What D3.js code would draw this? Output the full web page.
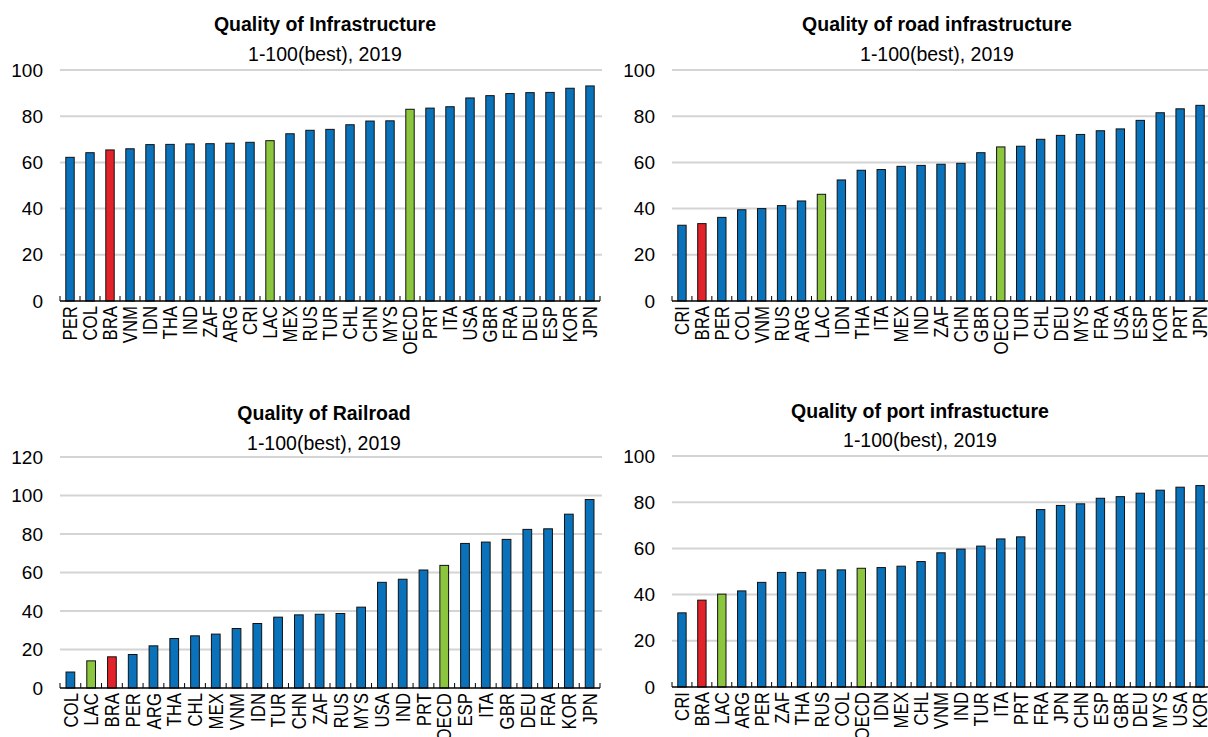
<!DOCTYPE html>
<html>
<head>
<meta charset="utf-8">
<script src="https://cdn.jsdelivr.net/npm/d3@7"></script>
<style>
  body { margin: 0; background: #fff; }
  svg { display: block; font-family: "Liberation Sans", Arial, sans-serif; }
</style>
</head>
<body>
<svg id="chart" width="1208" height="737"></svg>
<script>
// Quality of Infrastructure
const infraCats = ["PER","COL","BRA","VNM","IDN","THA","IND","ZAF","ARG","CRI","LAC","MEX","RUS","TUR","CHL","CHN","MYS","OECD","PRT","ITA","USA","GBR","FRA","DEU","ESP","KOR","JPN"];
const infraVals = [62.2,64.2,65.4,65.9,67.7,67.8,68.0,68.1,68.3,68.7,69.4,72.4,73.9,74.3,76.3,77.9,78.0,83.0,83.5,84.1,87.9,88.9,89.8,90.2,90.3,92.1,93.1];

// Quality of road infrastructure
const roadCats = ["CRI","BRA","PER","COL","VNM","RUS","ARG","LAC","IDN","THA","ITA","MEX","IND","ZAF","CHN","GBR","OECD","TUR","CHL","DEU","MYS","FRA","USA","ESP","KOR","PRT","JPN"];
const roadVals = [32.8,33.5,36.2,39.5,40.0,41.3,43.3,46.2,52.4,56.6,56.9,58.3,58.7,59.2,59.6,64.2,66.7,67.0,70.0,71.7,72.1,73.7,74.5,78.2,81.5,83.2,84.7];

// Quality of Railroad
const railCats = ["COL","LAC","BRA","PER","ARG","THA","CHL","MEX","VNM","IDN","TUR","CHN","ZAF","RUS","MYS","USA","IND","PRT","OECD","ESP","ITA","GBR","DEU","FRA","KOR","JPN"];
const railVals = [8.3,14.1,16.2,17.4,21.9,25.7,27.1,28.0,30.9,33.5,36.8,38.0,38.3,38.7,42.0,54.9,56.5,61.3,63.7,75.1,75.8,77.2,82.4,82.7,90.3,97.9];

// Quality of port infrastucture
const portCats = ["CRI","BRA","LAC","ARG","PER","ZAF","THA","RUS","COL","OECD","IDN","MEX","CHL","VNM","IND","TUR","ITA","PRT","FRA","JPN","CHN","ESP","GBR","DEU","MYS","USA","KOR"];
const portVals = [32.1,37.6,40.2,41.6,45.3,49.6,49.6,50.7,50.7,51.4,51.7,52.3,54.3,58.1,59.7,61.0,64.1,65.0,76.8,78.6,79.3,81.7,82.4,83.9,85.2,86.5,87.2];

const subtitle = "1-100(best), 2019";
const yTicks100 = [0,20,40,60,80,100];
const yTicks120 = [0,20,40,60,80,100,120];

const BLUE = "#0a72ba", RED = "#e2232a", GREEN = "#8cc63e";
function barColor(c) {
  if (c === "BRA") return RED;
  if (c === "LAC" || c === "OECD") return GREEN;
  return BLUE;
}

const svg = d3.select("#chart");

function panel(opt) {
  const g = svg.append("g");
  const x = d3.scaleBand().domain(opt.cats).range([opt.x0, opt.x1]);
  const y = d3.scaleLinear().domain([0, opt.max]).range([opt.y0, opt.y1]);

  // titles
  g.append("text").attr("x", opt.tx).attr("y", opt.ty)
    .attr("text-anchor", "middle").attr("font-weight", "bold")
    .attr("font-size", 19.5).attr("fill", "#000").text(opt.title);
  g.append("text").attr("x", opt.tx).attr("y", opt.ty + opt.sub)
    .attr("text-anchor", "middle").attr("font-size", 19.5)
    .attr("fill", "#000").text(subtitle);

  // gridlines
  g.append("g").selectAll("line")
    .data(opt.ticks.filter(d => d > 0))
    .join("line")
    .attr("x1", opt.x0).attr("x2", opt.x1 + 2)
    .attr("y1", d => y(d)).attr("y2", d => y(d))
    .attr("stroke", "#d4d4d4").attr("stroke-width", 2);

  // y labels
  g.append("g").selectAll("text")
    .data(opt.ticks)
    .join("text")
    .attr("x", opt.x0 - 17).attr("y", d => y(d))
    .attr("dy", "0.35em").attr("text-anchor", "end")
    .attr("font-size", 19).attr("fill", "#000")
    .text(d => d);

  // bars
  const bw = x.bandwidth() * 0.42;
  g.append("g").selectAll("rect")
    .data(opt.cats.map((c, i) => ({ c, v: opt.vals[i] })))
    .join("rect")
    .attr("x", d => x(d.c) + (x.bandwidth() - bw) / 2)
    .attr("y", d => y(d.v))
    .attr("width", bw)
    .attr("height", d => y(0) - y(d.v))
    .attr("fill", d => barColor(d.c))
    .attr("stroke", "#111").attr("stroke-width", 1);

  // x axis line + inside ticks at band edges
  g.append("line")
    .attr("x1", opt.x0).attr("x2", opt.x1)
    .attr("y1", y(0)).attr("y2", y(0))
    .attr("stroke", "#000").attr("stroke-width", 1.5);
  const edges = opt.cats.map(c => x(c)).concat([opt.x1]);
  g.append("g").selectAll("line")
    .data(edges)
    .join("line")
    .attr("x1", d => d).attr("x2", d => d)
    .attr("y1", y(0)).attr("y2", y(0) - 5)
    .attr("stroke", "#000").attr("stroke-width", 1);

  // category labels (condensed, rotated)
  g.append("g").selectAll("text")
    .data(opt.cats)
    .join("text")
    .attr("transform", d => `translate(${x(d) + x.bandwidth() / 2},${y(0) + 5}) rotate(-90) scale(0.84,1)`)
    .attr("dy", "0.36em").attr("text-anchor", "end")
    .attr("font-size", 20).attr("fill", "#000")
    .text(d => d);
}

panel({ title: "Quality of Infrastructure", cats: infraCats, vals: infraVals, max: 100, ticks: yTicks100,
  x0: 60, x1: 600, y0: 301, y1: 70, tx: 325, ty: 31, sub: 30 });
panel({ title: "Quality of road infrastructure", cats: roadCats, vals: roadVals, max: 100, ticks: yTicks100,
  x0: 672, x1: 1210, y0: 301, y1: 70, tx: 937, ty: 31, sub: 30 });
panel({ title: "Quality of Railroad", cats: railCats, vals: railVals, max: 120, ticks: yTicks120,
  x0: 60, x1: 600, y0: 688, y1: 457, tx: 324, ty: 420, sub: 30 });
panel({ title: "Quality of port infrastucture", cats: portCats, vals: portVals, max: 100, ticks: yTicks100,
  x0: 672, x1: 1210, y0: 687, y1: 456, tx: 920, ty: 418, sub: 29 });
</script>
</body>
</html>
